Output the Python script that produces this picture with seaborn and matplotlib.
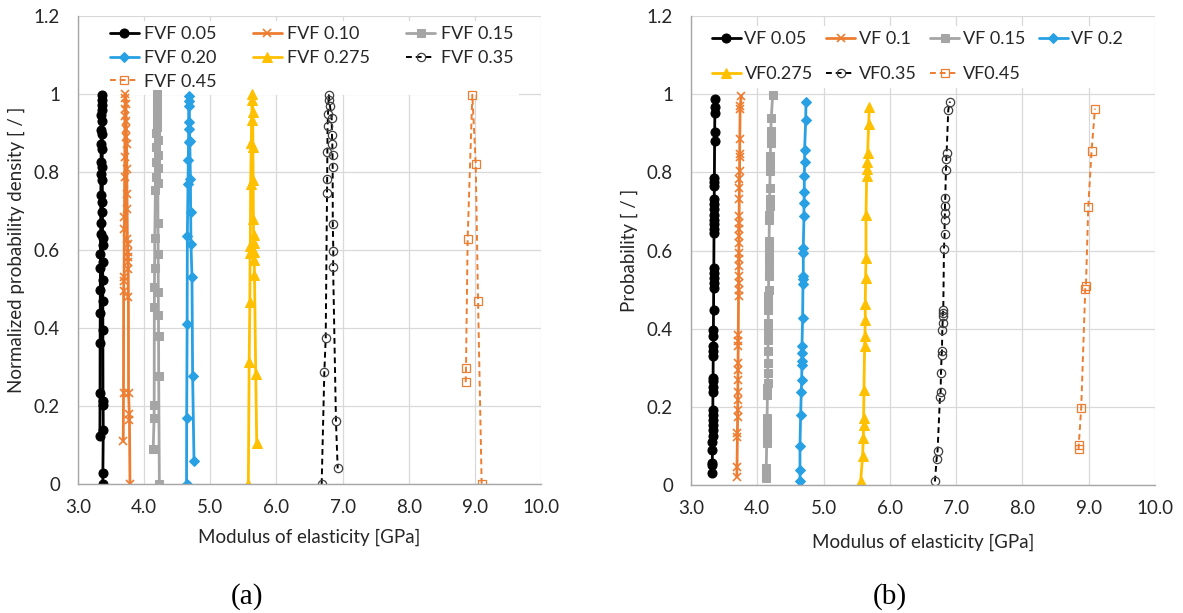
import matplotlib
matplotlib.use("Agg")
import matplotlib.pyplot as plt
import seaborn as sns

# ---------------- data ----------------
X_TICKS = [3.0, 4.0, 5.0, 6.0, 7.0, 8.0, 9.0, 10.0]
X_TICK_LABELS = ["3.0", "4.0", "5.0", "6.0", "7.0", "8.0", "9.0", "10.0"]
Y_TICKS = [0.0, 0.2, 0.4, 0.6, 0.8, 1.0, 1.2]
Y_TICK_LABELS = ["0", "0.2", "0.4", "0.6", "0.8", "1", "1.2"]

LABELS_A = ["FVF 0.05", "FVF 0.10", "FVF 0.15", "FVF 0.20", "FVF 0.275", "FVF 0.35", "FVF 0.45"]
LABELS_B = ["VF 0.05", "VF 0.1", "VF 0.15", "VF 0.2", "VF0.275", "VF0.35", "VF0.45"]

# (a) normalized probability density
a005_x = [3.331, 3.333, 3.334, 3.336, 3.337, 3.339, 3.340, 3.342, 3.343, 3.345, 3.347, 3.348, 3.350,
          3.352, 3.354, 3.356, 3.358, 3.360, 3.362, 3.363, 3.365, 3.366, 3.367, 3.368, 3.369, 3.370,
          3.371, 3.372, 3.373, 3.374, 3.375, 3.376, 3.378, 3.380, 3.382, 3.376, 3.374]
a005_y = [0.123, 0.233, 0.361, 0.438, 0.497, 0.553, 0.591, 0.642, 0.668, 0.740, 0.796, 0.826, 0.873,
          0.907, 0.945, 0.971, 0.997, 0.984, 0.958, 0.932, 0.898, 0.860, 0.813, 0.779, 0.723, 0.697,
          0.630, 0.613, 0.570, 0.523, 0.468, 0.395, 0.212, 0.203, 0.138, 0.027, 0.0]
a010_x = [3.684, 3.688, 3.690, 3.692, 3.697, 3.700, 3.703, 3.705, 3.708, 3.710, 3.712, 3.714, 3.718,
          3.724, 3.728, 3.731, 3.733, 3.736, 3.738, 3.741, 3.743, 3.746, 3.749, 3.752, 3.754, 3.757,
          3.759, 3.762, 3.764, 3.776, 3.778, 3.786]
a010_y = [0.109, 0.233, 0.496, 0.521, 0.530, 0.654, 0.684, 0.786, 0.838, 0.944, 0.962, 0.991, 1.0,
          0.974, 0.932, 0.910, 0.889, 0.872, 0.808, 0.744, 0.705, 0.628, 0.615, 0.594, 0.581, 0.568,
          0.551, 0.479, 0.233, 0.180, 0.164, 0.0]
a015_x = [4.137, 4.150, 4.152, 4.154, 4.156, 4.158, 4.161, 4.170, 4.175, 4.178, 4.181, 4.184, 4.187,
          4.190, 4.193, 4.196, 4.198, 4.200, 4.202, 4.203, 4.205, 4.207, 4.209, 4.212, 4.214, 4.216,
          4.218, 4.220, 4.230]
a015_y = [0.091, 0.168, 0.203, 0.453, 0.504, 0.555, 0.630, 0.754, 0.788, 0.826, 0.865, 0.899, 0.932,
          0.966, 1.0, 0.983, 0.949, 0.916, 0.882, 0.843, 0.809, 0.771, 0.668, 0.591, 0.493, 0.433,
          0.379, 0.277, 0.0]
a020_x = [4.641, 4.643, 4.650, 4.653, 4.663, 4.668, 4.671, 4.673, 4.675, 4.678, 4.681, 4.684, 4.690,
          4.700, 4.703, 4.708, 4.723, 4.733, 4.754]
a020_y = [0.0, 0.168, 0.410, 0.636, 0.768, 0.831, 0.876, 0.910, 0.970, 0.996, 0.983, 0.927, 0.880,
          0.782, 0.697, 0.615, 0.532, 0.277, 0.059]
a0275_x = [5.575, 5.588, 5.598, 5.602, 5.605, 5.610, 5.620, 5.625, 5.632, 5.636, 5.640, 5.645, 5.648,
           5.652, 5.655, 5.658, 5.662, 5.665, 5.668, 5.687, 5.702]
a0275_y = [0.0, 0.314, 0.466, 0.592, 0.609, 0.770, 0.874, 0.934, 0.985, 1.0, 0.955, 0.865, 0.780,
           0.679, 0.639, 0.618, 0.596, 0.575, 0.537, 0.283, 0.106]
a035_x = [6.684, 6.724, 6.745, 6.765, 6.767, 6.770, 6.773, 6.780, 6.788, 6.792, 6.810, 6.835, 6.840,
          6.845, 6.848, 6.850, 6.852, 6.860, 6.857, 6.900, 6.926]
a035_y = [0.0, 0.286, 0.374, 0.747, 0.781, 0.852, 0.918, 0.950, 0.985, 0.997, 0.969, 0.938, 0.894,
          0.871, 0.844, 0.812, 0.667, 0.597, 0.556, 0.161, 0.040]
a045_x = [8.862, 8.866, 8.891, 8.962, 9.013, 9.048, 9.103]
a045_y = [0.261, 0.297, 0.629, 0.998, 0.821, 0.470, 0.0]

# (b) cumulative probability
b005_x = [3.318, 3.320, 3.321, 3.323, 3.324, 3.325, 3.326, 3.327, 3.328, 3.328, 3.329, 3.331, 3.332,
          3.332, 3.333, 3.335, 3.336, 3.336, 3.337, 3.338, 3.340, 3.342, 3.342, 3.343, 3.343, 3.344,
          3.347, 3.347, 3.348, 3.348, 3.349, 3.349, 3.350, 3.350, 3.352, 3.352, 3.353, 3.356, 3.357,
          3.360, 3.361, 3.363]
b005_y = [0.030, 0.051, 0.057, 0.090, 0.111, 0.126, 0.141, 0.154, 0.167, 0.179, 0.192, 0.239, 0.252,
          0.265, 0.273, 0.329, 0.342, 0.355, 0.380, 0.397, 0.449, 0.504, 0.517, 0.530, 0.543, 0.556,
          0.645, 0.654, 0.667, 0.679, 0.692, 0.705, 0.718, 0.731, 0.765, 0.774, 0.786, 0.880, 0.902,
          0.953, 0.966, 0.987]
b010_x = [3.692, 3.694, 3.700, 3.700, 3.703, 3.704, 3.705, 3.706, 3.708, 3.709, 3.710, 3.712, 3.712,
          3.713, 3.717, 3.718, 3.718, 3.719, 3.720, 3.721, 3.722, 3.723, 3.724, 3.725, 3.725, 3.726,
          3.728, 3.730, 3.731, 3.732, 3.734, 3.734, 3.736, 3.741, 3.742, 3.760]
b010_y = [0.021, 0.047, 0.124, 0.132, 0.175, 0.192, 0.218, 0.239, 0.269, 0.295, 0.312, 0.355, 0.368,
          0.385, 0.483, 0.500, 0.517, 0.534, 0.560, 0.577, 0.594, 0.620, 0.637, 0.654, 0.671, 0.688,
          0.731, 0.761, 0.782, 0.803, 0.838, 0.846, 0.885, 0.962, 0.970, 0.996]
b015_x = [4.131, 4.133, 4.135, 4.142, 4.144, 4.145, 4.146, 4.148, 4.153, 4.154, 4.155, 4.157, 4.159,
          4.161, 4.163, 4.164, 4.165, 4.167, 4.168, 4.169, 4.170, 4.172, 4.173, 4.175, 4.176, 4.177,
          4.178, 4.182, 4.183, 4.185, 4.186, 4.189, 4.193, 4.195, 4.197, 4.201, 4.203, 4.205, 4.211,
          4.232]
b015_y = [0.017, 0.030, 0.043, 0.107, 0.124, 0.137, 0.150, 0.171, 0.231, 0.248, 0.261, 0.286, 0.312,
          0.342, 0.372, 0.393, 0.415, 0.449, 0.466, 0.483, 0.500, 0.534, 0.551, 0.573, 0.590, 0.607,
          0.624, 0.679, 0.692, 0.714, 0.731, 0.761, 0.803, 0.821, 0.842, 0.876, 0.889, 0.906, 0.940,
          0.997]
b020_x = [4.644, 4.644, 4.644, 4.654, 4.664, 4.669, 4.674, 4.674, 4.674, 4.674, 4.684, 4.689, 4.694,
          4.694, 4.694, 4.694, 4.704, 4.704, 4.709, 4.709, 4.714, 4.714, 4.730, 4.735]
b020_y = [0.009, 0.038, 0.101, 0.179, 0.239, 0.269, 0.308, 0.316, 0.338, 0.355, 0.427, 0.515, 0.527,
          0.534, 0.594, 0.607, 0.688, 0.721, 0.750, 0.791, 0.826, 0.857, 0.933, 0.980]
b0275_x = [5.559, 5.589, 5.599, 5.604, 5.604, 5.609, 5.619, 5.624, 5.629, 5.629, 5.634, 5.640, 5.640,
           5.650, 5.655, 5.660, 5.665, 5.680, 5.690]
b0275_y = [0.009, 0.074, 0.120, 0.154, 0.171, 0.242, 0.356, 0.382, 0.423, 0.464, 0.529, 0.580, 0.690,
           0.791, 0.808, 0.826, 0.850, 0.923, 0.966]
b035_x = [6.680, 6.705, 6.720, 6.756, 6.766, 6.771, 6.781, 6.786, 6.791, 6.796, 6.796, 6.801, 6.806,
          6.816, 6.826, 6.826, 6.831, 6.831, 6.836, 6.846, 6.851, 6.856, 6.881, 6.906]
b035_y = [0.009, 0.066, 0.088, 0.226, 0.239, 0.286, 0.333, 0.342, 0.397, 0.415, 0.432, 0.440, 0.447,
          0.604, 0.641, 0.679, 0.697, 0.714, 0.735, 0.806, 0.833, 0.849, 0.959, 0.981]
b045_x = [8.847, 8.850, 8.887, 8.948, 8.958, 8.993, 9.043, 9.094]
b045_y = [0.091, 0.102, 0.198, 0.502, 0.509, 0.711, 0.855, 0.963]

SERIES_A = [(a005_x, a005_y), (a010_x, a010_y), (a015_x, a015_y), (a020_x, a020_y),
            (a0275_x, a0275_y), (a035_x, a035_y), (a045_x, a045_y)]
SERIES_B = [(b005_x, b005_y), (b010_x, b010_y), (b015_x, b015_y), (b020_x, b020_y),
            (b0275_x, b0275_y), (b035_x, b035_y), (b045_x, b045_y)]

# ---------------- styles ----------------
ORANGE = "#ED7D31"
GRAY = "#A5A5A5"
BLUE = "#27A0E4"
GOLD = "#FFC000"
STYLES = [
    dict(color="black", marker="o", markersize=6.5, linewidth=2.0, linestyle="-",
         markerfacecolor="black", markeredgecolor="black"),
    dict(color=ORANGE, marker="x", markersize=6, linewidth=2.0, linestyle="-",
         markeredgecolor=ORANGE, markeredgewidth=1.2),
    dict(color=GRAY, marker="s", markersize=6, linewidth=2.0, linestyle="-",
         markerfacecolor=GRAY, markeredgecolor=GRAY),
    dict(color=BLUE, marker="D", markersize=5, linewidth=2.0, linestyle="-",
         markerfacecolor=BLUE, markeredgecolor=BLUE),
    dict(color=GOLD, marker="^", markersize=7, linewidth=2.0, linestyle="-",
         markerfacecolor=GOLD, markeredgecolor=GOLD),
    dict(color="black", marker="o", markersize=6, linewidth=1.4, linestyle=(0, (3, 2)),
         markerfacecolor="none", markeredgecolor="#404040", markeredgewidth=0.9),
    dict(color=ORANGE, marker="s", markersize=6, linewidth=1.4, linestyle=(0, (3, 2)),
         markerfacecolor="none", markeredgecolor=ORANGE, markeredgewidth=0.9),
]

sns.set_theme(style="white")
plt.rcParams["font.family"] = ["Lato", "DejaVu Sans"]

W, H = 1183, 613
fig = plt.figure(figsize=(W / 100, H / 100), dpi=100)
ax1 = fig.add_axes([78 / W, 1 - 484 / H, 463 / W, 468 / H])
ax2 = fig.add_axes([691 / W, 1 - 485 / H, 464 / W, 469 / H])

TEXT = "#262626"
AXC = "#A6A6A6"

for ax, series, labels, lp in [(ax1, SERIES_A, LABELS_A, 9), (ax2, SERIES_B, LABELS_B, 12)]:
    for (xs, ys), lab, st in zip(series, labels, STYLES):
        sns.lineplot(x=xs, y=ys, ax=ax, estimator=None, sort=False, label=lab, legend=False, **st)
    ax.set_xlim(3, 10)
    ax.set_ylim(0, 1.2)
    ax.set_xticks(X_TICKS)
    ax.set_xticklabels(X_TICK_LABELS)
    ax.set_yticks(Y_TICKS)
    ax.set_yticklabels(Y_TICK_LABELS)
    ax.grid(True, color="#D9D9D9", linewidth=0.9)
    ax.set_axisbelow(True)
    for s in ["top", "right"]:
        ax.spines[s].set_visible(False)
    for s in ["left", "bottom"]:
        ax.spines[s].set_color(AXC)
        ax.spines[s].set_linewidth(1.0)
    ax.tick_params(axis="both", direction="out", length=4, width=1, color=AXC,
                   labelsize=13.5, labelcolor=TEXT)
    ax.tick_params(axis="x", pad=7)
    ax.tick_params(axis="y", pad=9)
    ax.set_xlabel("Modulus of elasticity [GPa]", fontsize=13.5, color=TEXT, labelpad=lp)

ax1.set_ylabel("Normalized probability density [ / ]", fontsize=13.5, color=TEXT, labelpad=6)
ax2.set_ylabel("Probability [ / ]", fontsize=13.5, color=TEXT, labelpad=6)

# legends
h1, l1 = ax1.get_legend_handles_labels()
order1 = [0, 3, 6, 1, 4, 2, 5]
fs = 13
fspx = fs * 100 / 72
bp = 0.3
leg1 = ax1.legend([h1[i] for i in order1], [l1[i] for i in order1], ncol=3, loc="upper left",
                  bbox_to_anchor=((110 - bp * fspx) / W, 1 - (26.5 - bp * fspx) / H),
                  bbox_transform=fig.transFigure, fontsize=fs, frameon=True, fancybox=False,
                  facecolor="white", edgecolor="none", framealpha=1, borderpad=bp,
                  borderaxespad=0, handlelength=1.6, handletextpad=0.3, columnspacing=2.0,
                  labelspacing=0.42, labelcolor=TEXT)
leg1.set_zorder(1.5)

h2, l2 = ax2.get_legend_handles_labels()
order2 = [0, 4, 1, 5, 2, 6, 3]
leg2 = ax2.legend([h2[i] for i in order2], [l2[i] for i in order2], ncol=4, loc="upper left",
                  bbox_to_anchor=((712 - bp * fspx) / W, 1 - (31.5 - bp * fspx) / H),
                  bbox_transform=fig.transFigure, fontsize=fs, frameon=True, fancybox=False,
                  facecolor="white", edgecolor="none", framealpha=1, borderpad=bp,
                  borderaxespad=0, handlelength=1.6, handletextpad=0.2, columnspacing=0.75,
                  labelspacing=1.05, labelcolor=TEXT)
leg2.set_zorder(1.5)

fig.text(247 / W, 1 - 597 / H, "(a)", ha="center", va="center", fontsize=21,
         family=["Liberation Serif", "DejaVu Serif"], color="black")
fig.text(890 / W, 1 - 597 / H, "(b)", ha="center", va="center", fontsize=21,
         family=["Liberation Serif", "DejaVu Serif"], color="black")

fig.savefig("out.png", dpi=100)
